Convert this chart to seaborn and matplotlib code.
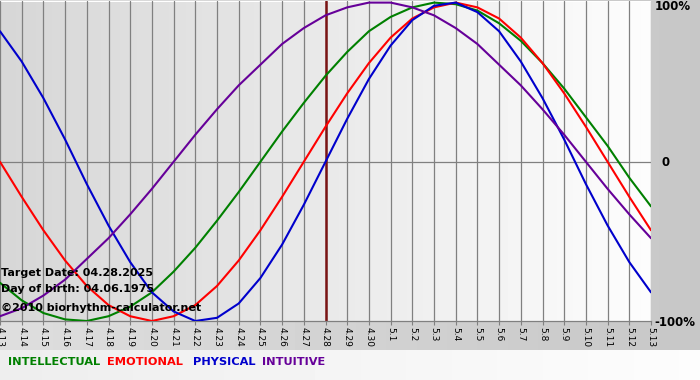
import numpy as np
import pandas as pd
import seaborn as sns
import matplotlib.pyplot as plt

# days shown on the x axis (04.13.2025 - 05.13.2025)
days = ['4.13', '4.14', '4.15', '4.16', '4.17', '4.18', '4.19', '4.20', '4.21', '4.22',
        '4.23', '4.24', '4.25', '4.26', '4.27', '4.28', '4.29', '4.30', '5.1', '5.2',
        '5.3', '5.4', '5.5', '5.6', '5.7', '5.8', '5.9', '5.10', '5.11', '5.12', '5.13']

# cycle values (-1 .. 1)
intellectual = [-0.76, -0.87, -0.95, -0.99, -1.00, -0.97, -0.91, -0.82, -0.69, -0.54,
                -0.37, -0.19, 0.00, 0.19, 0.37, 0.54, 0.69, 0.82, 0.91, 0.97,
                1.00, 0.99, 0.95, 0.87, 0.76, 0.62, 0.46, 0.28, 0.10, -0.10, -0.28]
emotional = [0.00, -0.22, -0.43, -0.62, -0.78, -0.90, -0.97, -1.00, -0.97, -0.90,
             -0.78, -0.62, -0.43, -0.22, 0.00, 0.22, 0.43, 0.62, 0.78, 0.90,
             0.97, 1.00, 0.97, 0.90, 0.78, 0.62, 0.43, 0.22, 0.00, -0.22, -0.43]
physical = [0.82, 0.63, 0.40, 0.14, -0.14, -0.40, -0.63, -0.82, -0.94, -1.00,
            -0.98, -0.89, -0.73, -0.52, -0.27, 0.00, 0.27, 0.52, 0.73, 0.89,
            0.98, 1.00, 0.94, 0.82, 0.63, 0.40, 0.14, -0.14, -0.40, -0.63, -0.82]
intuitive = [-0.97, -0.92, -0.84, -0.74, -0.61, -0.48, -0.33, -0.17, 0.00, 0.17,
             0.33, 0.48, 0.61, 0.74, 0.84, 0.92, 0.97, 1.00, 1.00, 0.97,
             0.92, 0.84, 0.74, 0.61, 0.48, 0.33, 0.17, 0.00, -0.17, -0.33, -0.48]

series_names = ['INTELLECTUAL', 'EMOTIONAL', 'PHYSICAL', 'INTUITIVE']
series_colors = ['#008000', '#ff0000', '#0000cc', '#660099']
target_day = '4.28'

df = pd.DataFrame({
    'day': range(len(days)),
    'INTELLECTUAL': intellectual,
    'EMOTIONAL': emotional,
    'PHYSICAL': physical,
    'INTUITIVE': intuitive,
}).melt(id_vars='day', var_name='series', value_name='value')

sns.set_style('white')
plt.rcParams['font.family'] = ['DejaVu Sans']
plt.rcParams['text.color'] = 'black'

fig = plt.figure(figsize=(7, 3.8), dpi=100)

# background of the whole picture: gray panel, light strip for the legend
bg = fig.add_axes([0, 0, 1, 1])
bg.axis('off')
img = np.zeros((380, 700))
img[:350, :] = np.linspace(0.87, 0.78, 700)
img[350:, :] = np.linspace(0.93, 0.99, 700)
bg.imshow(img, cmap='gray', vmin=0, vmax=1, aspect='auto', extent=(0, 1, 0, 1))
bg.set_xlim(0, 1)
bg.set_ylim(0, 1)

ax = fig.add_axes([0, 59 / 380, 651 / 700, 320 / 380])
grad = np.linspace(0.84, 0.99, 200)[None, :]
ax.imshow(grad, cmap='gray', vmin=0, vmax=1, aspect='auto',
          extent=(0, len(days) - 1, -1, 1), zorder=0)

for i in range(len(days)):
    ax.axvline(i, color='#808080', lw=0.9, zorder=1)
ax.axhline(0, color='#808080', lw=0.9, zorder=1)

sns.lineplot(data=df, x='day', y='value', hue='series', hue_order=series_names,
             palette=series_colors, ax=ax, legend=False, linewidth=1.5, zorder=3)

ax.axvline(days.index(target_day), color='#7a1414', lw=1.8, zorder=2)

ax.set_xlim(0, len(days) - 1)
ax.set_ylim(-1, 1.01)
ax.set_xticks(range(len(days)))
ax.set_xticklabels(days, rotation=270, fontsize=6.5)
ax.tick_params(axis='x', length=3, color='#808080', labelcolor='black', pad=1, bottom=True)
ax.set_yticks([])
ax.set_xlabel('')
ax.set_ylabel('')
for s in ['top', 'left', 'right']:
    ax.spines[s].set_visible(False)
ax.spines['bottom'].set_color('#808080')
ax.spines['bottom'].set_linewidth(0.9)

# info text inside the plot
info_kw = dict(fontsize=8, fontweight='bold', va='center', color='black')
ax.text(0.05, -0.70, 'Target Date: 04.28.2025', **info_kw)
ax.text(0.05, -0.80, 'Day of birth: 04.06.1975', **info_kw)
ax.text(0.05, -0.92, '\u00a92010 biorhythm-calculator.net', **info_kw)

# right side scale labels
scale_kw = dict(fontsize=8.5, fontweight='bold', va='center', color='black')
fig.text(655 / 700, 1 - 7 / 380, '100%', **scale_kw)
fig.text(661 / 700, 1 - 162 / 380, '0', **scale_kw)
fig.text(654 / 700, 1 - 322 / 380, '-100%', **scale_kw)

# legend as coloured words
legend_x = [8, 107, 193, 262]
for name, col, lx in zip(series_names, series_colors, legend_x):
    fig.text(lx / 700, 1 - 362 / 380, name, color=col, fontsize=8.2,
             fontweight='bold', va='center')

fig.savefig('out.png', dpi=100)
